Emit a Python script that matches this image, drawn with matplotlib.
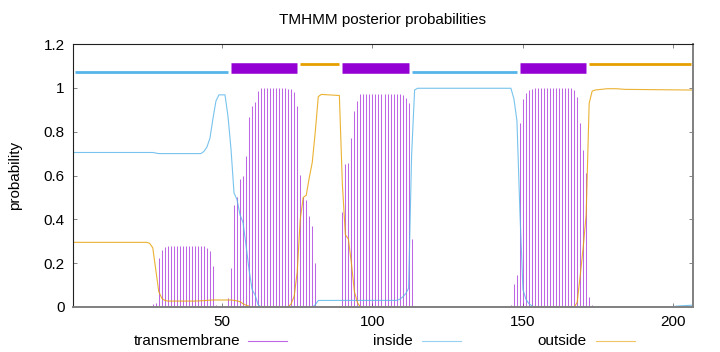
import numpy as np
import matplotlib
matplotlib.use("Agg")
import matplotlib.pyplot as plt
from matplotlib.lines import Line2D

plt.rcParams['font.family'] = ['Liberation Sans', 'DejaVu Sans']

# === Data ===
seq_len = 206

# transmembrane posterior, one value per residue 1..206
tm_prob = [
    0, 0, 0, 0, 0, 0, 0, 0, 0, 0,                                            # 1-10
    0, 0, 0, 0, 0, 0, 0, 0, 0, 0,                                            # 11-20
    0, 0, 0, 0, 0, 0.005, 0.015, 0.02, 0.222, 0.262,                         # 21-30
    0.272, 0.277, 0.277, 0.277, 0.277, 0.277, 0.277, 0.277, 0.277, 0.277,    # 31-40
    0.277, 0.277, 0.277, 0.277, 0.27, 0.256, 0.185, 0.01, 0.005, 0,          # 41-50
    0, 0.04, 0.177, 0.466, 0.50, 0.583, 0.598, 0.69, 0.866, 0.919,           # 51-60
    0.936, 0.986, 1.0, 1.0, 1.0, 1.0, 1.0, 1.0, 1.0, 1.0,                    # 61-70
    1.0, 0.994, 0.994, 0.983, 0.915, 0.603, 0.50, 0.49, 0.417, 0.371,        # 71-80
    0.202, 0, 0, 0, 0, 0, 0, 0, 0.005, 0.434,                                # 81-90
    0.651, 0.659, 0.769, 0.895, 0.942, 0.973, 0.973, 0.973, 0.973, 0.973,    # 91-100
    0.973, 0.973, 0.973, 0.973, 0.973, 0.973, 0.973, 0.973, 0.973, 0.968,    # 101-110
    0.953, 0.93, 0.31, 0.005, 0, 0, 0, 0, 0, 0,                              # 111-120
    0, 0, 0, 0, 0, 0, 0, 0, 0, 0,                                            # 121-130
    0, 0, 0, 0, 0, 0, 0, 0, 0, 0,                                            # 131-140
    0, 0, 0, 0, 0, 0.01, 0.105, 0.146, 0.839, 0.95,                          # 141-150
    0.976, 0.988, 0.994, 0.998, 0.998, 0.998, 0.998, 0.998, 0.998, 0.998,    # 151-160
    0.998, 0.998, 0.998, 0.998, 0.998, 0.998, 0.99, 0.96, 0.839, 0.717,      # 161-170
    0.61, 0.044, 0.01, 0, 0, 0, 0, 0, 0, 0,                                  # 171-180
    0, 0, 0, 0, 0, 0, 0, 0, 0, 0,                                            # 181-190
    0, 0, 0, 0, 0, 0, 0, 0, 0, 0,                                            # 191-200
    0, 0, 0, 0, 0, 0,                                                        # 201-206
]

# inside / outside posteriors (residue, probability) at the points read
inside_pos = [1, 27, 29, 43, 44, 45, 46, 47, 48, 49, 51, 52, 53, 54, 55, 56, 57, 58,
              59, 60, 61, 62, 63, 80, 81, 82, 108, 109, 110, 111, 112, 113, 114, 115,
              146, 147, 148, 149, 150, 151, 152, 153, 154, 198, 202, 206]
inside_prob = [0.705, 0.705, 0.700, 0.700, 0.71, 0.73, 0.77, 0.86, 0.94, 0.968, 0.968,
               0.87, 0.72, 0.52, 0.49, 0.42, 0.385, 0.28, 0.17, 0.08, 0.055, 0.01, 0.0,
               0.0, 0.01, 0.03, 0.03, 0.035, 0.045, 0.06, 0.085, 0.69, 0.99, 0.998,
               0.998, 0.95, 0.85, 0.43, 0.08, 0.035, 0.015, 0.005, 0.0, 0.0, 0.005, 0.008]

outside_pos = [1, 25, 26, 27, 28, 29, 30, 31, 32, 41, 44, 47, 53, 55, 56, 57, 58, 60,
               72, 73, 74, 75, 76, 77, 78, 79, 80, 81, 82, 83, 89, 90, 91, 92, 93, 94,
               95, 96, 167, 168, 169, 170, 171, 172, 173, 174, 176, 178, 181, 184, 206]
outside_prob = [0.295, 0.295, 0.29, 0.27, 0.17, 0.07, 0.04, 0.03, 0.027, 0.027, 0.029,
                0.032, 0.032, 0.028, 0.024, 0.015, 0.008, 0.0, 0.0, 0.015, 0.05, 0.16,
                0.40, 0.50, 0.51, 0.59, 0.66, 0.80, 0.96, 0.97, 0.965, 0.56, 0.33, 0.31,
                0.2, 0.07, 0.02, 0.0, 0.0, 0.02, 0.14, 0.27, 0.42, 0.93, 0.985, 0.99,
                0.993, 0.996, 0.996, 0.993, 0.99]

# predicted topology segments
seg_start = [1, 53, 76, 90, 113, 149, 172]
seg_end = [52, 75, 89, 112, 148, 171, 206]
seg_kind = ["inside", "TMhelix", "outside", "TMhelix", "inside", "TMhelix", "outside"]

# === Styling ===
c_tm = "#9400d3"
c_in = "#56b4e9"
c_out = "#e69f00"
seg_style = {"inside": (c_in, 1.07, 2.0),
             "TMhelix": (c_tm, 1.091, 7.6),
             "outside": (c_out, 1.111, 2.0)}

fig = plt.figure(figsize=(7.2, 3.52), dpi=100)
ax = fig.add_axes([73 / 720, 1 - 307 / 352, 620 / 720, 263 / 352])

res = np.arange(1, seq_len + 1)
ax.vlines(res, 0, tm_prob, color=c_tm, alpha=0.6, linewidth=0.75)
ax.plot(inside_pos, inside_prob, color=c_in, alpha=0.8, linewidth=0.8)
ax.plot(outside_pos, outside_prob, color=c_out, alpha=0.8, linewidth=0.8)

for s, e, k in zip(seg_start, seg_end, seg_kind):
    col, yy, lw = seg_style[k]
    ax.hlines(yy, s, e, color=col, linewidth=lw, capstyle="butt")

ax.set_xlim(0.5, 206.5)
ax.set_ylim(0, 1.2)
ax.set_xticks([50, 100, 150, 200])
ax.set_yticks([0, 0.2, 0.4, 0.6, 0.8, 1.0, 1.2])
ax.set_yticklabels(["0", "0.2", "0.4", "0.6", "0.8", "1", "1.2"])
ax.tick_params(direction="in", top=True, right=True, length=3, width=0.6,
               color="#707070", labelsize=11, pad=6)
ax.tick_params(axis="x", pad=6)
for side in ["left", "top"]:
    ax.spines[side].set_color("#202020")
    ax.spines[side].set_linewidth(0.8)
for side in ["right", "bottom"]:
    ax.spines[side].set_color("#808080")
    ax.spines[side].set_linewidth(1.4)

ax.set_ylabel("probability", fontsize=11)
ax.yaxis.set_label_coords((22 - 73) / 620, 0.5)

fig.text(382.5 / 720, 1 - 20 / 352, "TMHMM posterior probabilities",
         ha="center", va="center", fontsize=11)

# gnuplot-like key under the plot: label, then line sample
key = [("transmembrane", c_tm, 240, 248, 287),
       ("inside", c_in, 413, 422, 461),
       ("outside", c_out, 587, 596, 635)]
ky = 1 - 341 / 352
for label, col, tx, x0, x1 in key:
    fig.text(tx / 720, ky, label, ha="right", va="center", fontsize=11)
    fig.add_artist(Line2D([x0 / 720, x1 / 720], [ky, ky], color=col,
                          alpha=0.6, linewidth=0.8, transform=fig.transFigure))

fig.savefig("out.png", dpi=100)
